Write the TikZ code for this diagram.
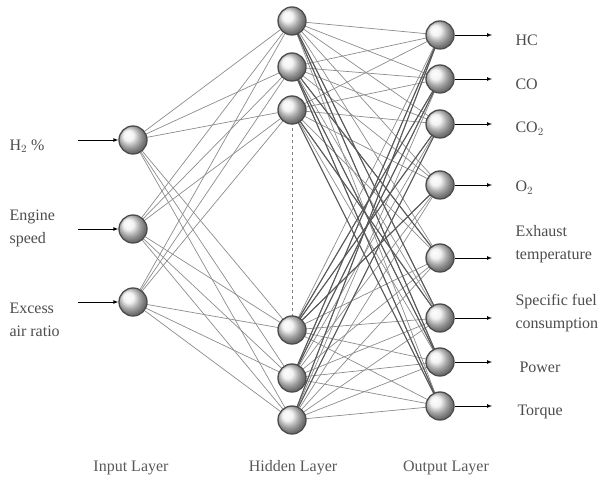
\documentclass[tikz,border=0pt]{standalone}
\usepackage{fontspec}
\setmainfont{Liberation Serif}
\begin{document}
\begin{tikzpicture}[x=1pt,y=-1pt,
  neuron/.style={circle,minimum size=28pt,inner sep=0pt,draw=black!70,line width=1.3pt,ball color=black!6,shading=ball},
  conn/.style={draw=black!45,line width=0.7pt},
  dconn/.style={draw=black!65,line width=1.1pt},
  arr/.style={draw=black,line width=0.7pt,-latex},
  lbl/.style={anchor=west,align=left,text=black!70,font=\fontsize{16}{23}\selectfont},
  lay/.style={text=black!65,font=\fontsize{16}{18}\selectfont}]
\useasboundingbox (0,0) rectangle (606,486);
\foreach \i/\y in {1/140,2/229,3/302} \coordinate (ic\i) at (133,\y);
\foreach \i/\y in {1/21,2/67,3/110,4/330,5/378,6/420} \coordinate (hc\i) at (292,\y);
\foreach \i/\y in {1/35,2/79,3/124,4/185,5/258,6/318,7/362,8/406} \coordinate (oc\i) at (440,\y);
% connections
\foreach \i in {1,2,3} \foreach \j in {1,...,6} \draw[conn] (ic\i) -- (hc\j);
\foreach \i in {1,...,6} \foreach \j in {1,...,8} \draw[conn] (hc\i) -- (oc\j);
\foreach \i/\j in {1/6,1/7,2/7,2/8,3/6,3/8,2/5,4/2,4/3,5/1,5/2,6/3,6/1,4/4} \draw[dconn] (hc\i) -- (oc\j);
\draw[dashed,draw=black!50,line width=0.6pt] (hc3) -- (hc4);
% nodes
\foreach \i in {1,2,3} \node[neuron] (i\i) at (ic\i) {};
\foreach \i in {1,...,6} \node[neuron] (h\i) at (hc\i) {};
\foreach \i in {1,...,8} \node[neuron] (o\i) at (oc\i) {};
% input arrows and labels
\coordinate (is1) at (78,140);
\coordinate (is2) at (78,229);
\coordinate (is3) at (78,302);
\foreach \i in {1,2,3} \draw[arr] (is\i) -- (i\i);
\node[lbl] (l1) at (6,146) {H$_2$ \%};
\node[lbl] (l2) at (6,228) {Engine\\speed};
\node[lbl] (l3) at (6,320) {Excess\\air ratio};
% output arrows
\foreach \i/\y in {1/35,2/79,3/124,4/185,5/258,6/318,7/362,8/406} {
  \coordinate (oe\i) at (492,\y);
  \draw[arr] (o\i) -- (oe\i);
}
\node[lbl] (r1) at (512,40) {HC};
\node[lbl] (r2) at (512,84) {CO};
\node[lbl] (r3) at (512,129) {CO$_2$};
\node[lbl] (r4) at (512,188) {O$_2$};
\node[lbl] (r5) at (512,244) {Exhaust\\temperature};
\node[lbl] (r6) at (512,313) {Specific fuel\\consumption};
\node[lbl] (r7) at (516,367) {Power};
\node[lbl] (r8) at (514,412) {Torque};
% layer labels
\node[lay] (t1) at (131,468) {Input Layer};
\node[lay] (t2) at (293,468) {Hidden Layer};
\node[lay] (t3) at (446,468) {Output Layer};
\end{tikzpicture}
\end{document}
